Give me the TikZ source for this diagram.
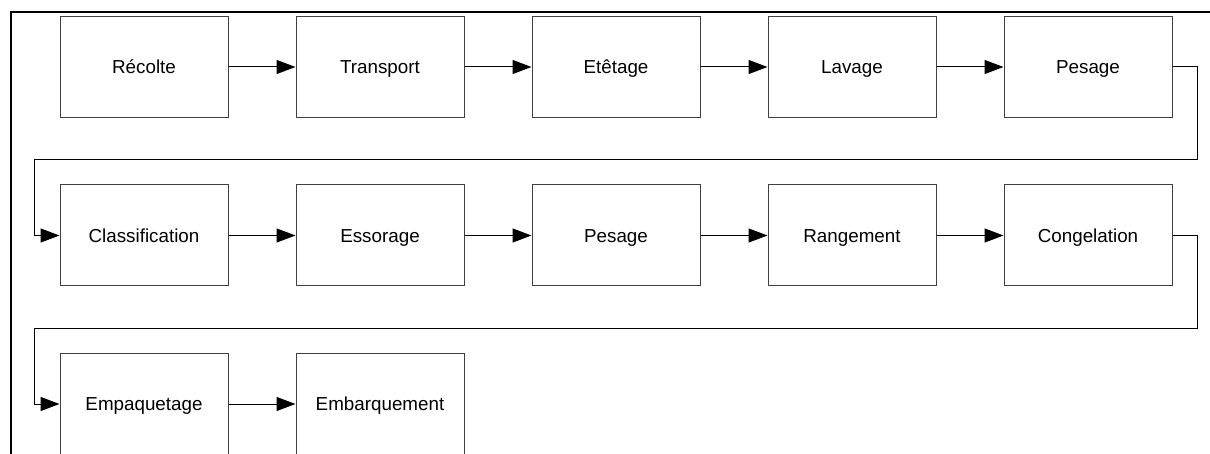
\documentclass[tikz,border=0pt]{standalone}
\usepackage{fontspec}
\setmainfont{Liberation Sans}
\usetikzlibrary{arrows.meta}
\begin{document}
\begin{tikzpicture}[x=1pt,y=-1pt,
  stepbox/.style={draw=black!75,line width=1pt,minimum width=168pt,minimum height=101pt,inner sep=0pt,text height=13.5pt,text depth=0pt,font=\fontsize{18.8}{22}\selectfont,fill=white},
  conn/.style={draw=black,line width=1pt,-{Triangle[length=19pt,width=14pt]}},
  frameline/.style={draw=black,line width=2pt}]
\useasboundingbox (0,0) rectangle (1210,454);
\draw[frameline] (11,454) -- (11,12) -- (1212,12);
\node[stepbox] (r1) at (144,67) {Récolte};
\node[stepbox] (r2) at (380,67) {Transport};
\node[stepbox] (r3) at (616,67) {Etêtage};
\node[stepbox] (r4) at (852,67) {Lavage};
\node[stepbox] (r5) at (1088,67) {Pesage};
\node[stepbox] (s1) at (144,235.5) {Classification};
\node[stepbox] (s2) at (380,235.5) {Essorage};
\node[stepbox] (s3) at (616,235.5) {Pesage};
\node[stepbox] (s4) at (852,235.5) {Rangement};
\node[stepbox] (s5) at (1088,235.5) {Congelation};
\node[stepbox] (t1) at (144,404) {Empaquetage};
\node[stepbox] (t2) at (380,404) {Embarquement};
\draw[conn] (r1) -- (r2);
\draw[conn] (r2) -- (r3);
\draw[conn] (r3) -- (r4);
\draw[conn] (r4) -- (r5);
\draw[conn] (s1) -- (s2);
\draw[conn] (s2) -- (s3);
\draw[conn] (s3) -- (s4);
\draw[conn] (s4) -- (s5);
\draw[conn] (t1) -- (t2);
\draw[conn] (r5.east) -- (1197,67) -- (1197,159.5) -- (34,159.5) -- (34,235.5) -- (s1.west);
\draw[conn] (s5.east) -- (1197,235.5) -- (1197,328) -- (34,328) -- (34,404) -- (t1.west);
\end{tikzpicture}
\end{document}
